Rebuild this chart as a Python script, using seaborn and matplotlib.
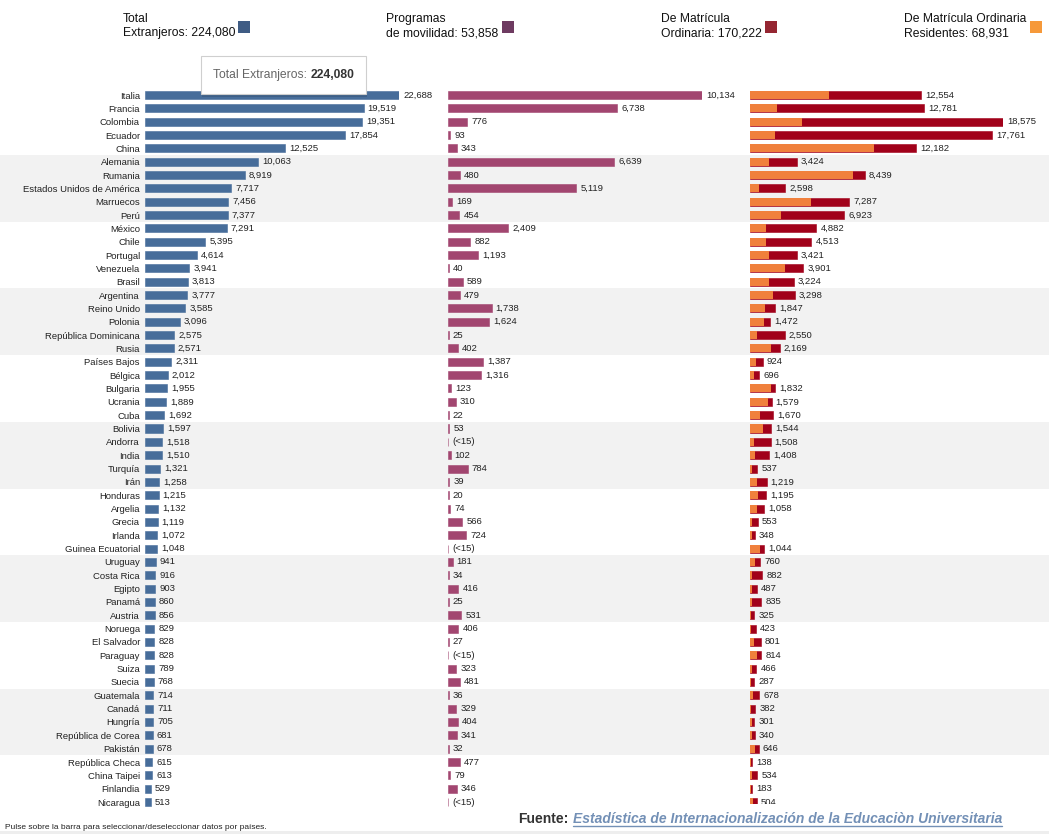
import pandas as pd
import seaborn as sns
import matplotlib.pyplot as plt
from matplotlib.patches import Rectangle
from matplotlib.lines import Line2D

# data
paises = ['Italia', 'Francia', 'Colombia', 'Ecuador', 'China', 'Alemania', 'Rumania',
          'Estados Unidos de América', 'Marruecos', 'Perú', 'México', 'Chile', 'Portugal',
          'Venezuela', 'Brasil', 'Argentina', 'Reino Unido', 'Polonia', 'República Dominicana',
          'Rusia', 'Países Bajos', 'Bélgica', 'Bulgaria', 'Ucrania', 'Cuba', 'Bolivia',
          'Andorra', 'India', 'Turquía', 'Irán', 'Honduras', 'Argelia', 'Grecia', 'Irlanda',
          'Guinea Ecuatorial', 'Uruguay', 'Costa Rica', 'Egipto', 'Panamá', 'Austria',
          'Noruega', 'El Salvador', 'Paraguay', 'Suiza', 'Suecia', 'Guatemala', 'Canadá',
          'Hungría', 'República de Corea', 'Pakistán', 'República Checa', 'China Taipei',
          'Finlandia', 'Nicaragua']

total_extranjeros = [22688, 19519, 19351, 17854, 12525, 10063, 8919, 7717, 7456, 7377,
                     7291, 5395, 4614, 3941, 3813, 3777, 3585, 3096, 2575, 2571,
                     2311, 2012, 1955, 1889, 1692, 1597, 1518, 1510, 1321, 1258,
                     1215, 1132, 1119, 1072, 1048, 941, 916, 903, 860, 856,
                     829, 828, 828, 789, 768, 714, 711, 705, 681, 678,
                     615, 613, 529, 513]

# values under 15 are shown as "(<15)"
movilidad = [10134, 6738, 776, 93, 343, 6639, 480, 5119, 169, 454,
             2409, 882, 1193, 40, 589, 479, 1738, 1624, 25, 402,
             1387, 1316, 123, 310, 22, 53, 10, 102, 784, 39,
             20, 74, 566, 724, 4, 181, 34, 416, 25, 531,
             406, 27, 14, 323, 481, 36, 329, 404, 341, 32,
             477, 79, 346, 9]

matricula = [12554, 12781, 18575, 17761, 12182, 3424, 8439, 2598, 7287, 6923,
             4882, 4513, 3421, 3901, 3224, 3298, 1847, 1472, 2550, 2169,
             924, 696, 1832, 1579, 1670, 1544, 1508, 1408, 537, 1219,
             1195, 1058, 553, 348, 1044, 760, 882, 487, 835, 325,
             423, 801, 814, 466, 287, 678, 382, 301, 340, 646,
             138, 534, 183, 504]

# residentes (orange part)
residentes = [5800, 1960, 3820, 1835, 9100, 1395, 7560, 660, 4480, 2275,
              1175, 1175, 1395, 2570, 1395, 1690, 1100, 1030, 515, 1540,
              440, 295, 1540, 1320, 735, 955, 295, 367, 147, 515,
              587, 515, 147, 147, 735, 367, 147, 147, 147, 100,
              50, 295, 515, 147, 60, 220, 70, 120, 120, 367,
              40, 147, 40, 220]

leyenda_l1 = ['Total', 'Programas', 'De Matrícula', 'De Matrícula Ordinaria']
leyenda_l2 = ['Extranjeros', 'de movilidad', 'Ordinaria', 'Residentes']
leyenda_totales = [224080, 53858, 170222, 68931]

BLUE = '#476d9a'
PURPLE = '#a24670'
RED = '#a1011a'
ORANGE = '#f0803c'
swatch_colors = ['#3f5c84', '#6e3b61', '#952632', '#f6993a']

sns.set_theme(style="white")
plt.rcParams['font.family'] = ['Liberation Sans', 'DejaVu Sans']

W, H = 1049, 834
fig = plt.figure(figsize=(W / 100, H / 100), dpi=100)


def fx(x):
    return x / W


def fy(y):
    return 1 - y / H


df = pd.DataFrame({'pais': paises, 'total': total_extranjeros, 'movilidad': movilidad,
                   'matricula': matricula, 'residentes': residentes})
n = len(df)

row_h = 13.34
top = 95 - row_h / 2
bottom = top + n * row_h
ay, ah = fy(bottom), (bottom - top) / H

# alternating grey bands, 5 rows each
bg = fig.add_axes([0, ay, 1, ah], zorder=-1)
bg.set_xlim(0, 1)
bg.set_ylim(n - 0.5, -0.5)
for start in range(5, n, 10):
    bg.axhspan(start - 0.5, min(start + 4.5, n - 0.5), color='#f2f2f2', lw=0)
bg.axis('off')

panels = [(145, 254, 'total', BLUE), (448, 254, 'movilidad', PURPLE), (750, 253, 'matricula', RED)]
axes = []
for left, width, col, c in panels:
    ax = fig.add_axes([fx(left), ay, width / W, ah])
    ax.set_facecolor('none')
    sns.barplot(data=df, x=col, y='pais', orient='h', color=c, saturation=1, width=0.6,
                edgecolor=c, linewidth=0.4, ax=ax)
    if col == 'matricula':
        sns.barplot(data=df, x='residentes', y='pais', orient='h', color=ORANGE, saturation=1,
                    width=0.6, linewidth=0, ax=ax)
    for i, v in enumerate(df[col]):
        txt = '(<15)' if v < 15 else f'{v:,}'
        ax.annotate(txt, xy=(v, i), xytext=(3, 0), textcoords='offset points',
                    va='center', ha='left', fontsize=6.8, color='#222222')
    ax.set_xlim(0, df[col].max())
    ax.set_ylim(n - 0.5, -0.5)
    ax.set_xticks([])
    ax.set_xlabel('')
    ax.set_ylabel('')
    sns.despine(ax=ax, left=True, bottom=True)
    axes.append(ax)

axes[0].tick_params(axis='y', length=0, pad=3.6, labelsize=6.8, labelcolor='#222222')
axes[1].set_yticks([])
axes[2].set_yticks([])

# legend at the top
leg_x = [123, 386, 661, 904]
sw_x = [238, 502, 765, 1030]
for lx, sx, l1, l2, tot, sc in zip(leg_x, sw_x, leyenda_l1, leyenda_l2, leyenda_totales, swatch_colors):
    fig.text(fx(lx), fy(22), l1, fontsize=8.7, color='#111111', va='baseline')
    fig.text(fx(lx), fy(36), f'{l2}: {tot:,}', fontsize=8.7, color='#111111', va='baseline')
    fig.add_artist(Rectangle((fx(sx), fy(33)), 11.5 / W, 11.5 / H, transform=fig.transFigure,
                             color=sc, lw=0))

# tooltip box
fig.add_artist(Rectangle((fx(202), fy(96.5)), 165.3 / W, 38.6 / H, transform=fig.transFigure,
                         fc='#000000', alpha=0.12, lw=0, zorder=5))
fig.add_artist(Rectangle((fx(200.7), fy(94.3)), 165.3 / W, 38.6 / H, transform=fig.transFigure,
                         fc='white', ec='#cfcfcf', lw=0.8, zorder=6))
t1 = fig.text(fx(213), fy(78), 'Total Extranjeros:', fontsize=8.7, color='#666666',
              va='baseline', zorder=7)

# footer (its white block hides the bottom of the last row on the right)
fig.add_artist(Rectangle((fx(510), fy(831)), (W - 510) / W, 27.5 / H, transform=fig.transFigure,
                         fc='white', lw=0, zorder=5))
fig.add_artist(Rectangle((0, 0), 1, 3 / H, transform=fig.transFigure, fc='#eeeeee', lw=0, zorder=5))
fig.text(fx(5), fy(829), 'Pulse sobre la barra para seleccionar/deseleccionar datos por países.',
         fontsize=6, color='#222222', va='baseline', zorder=6)
fig.text(fx(518), fy(823), 'Fuente:', fontsize=10, fontweight='bold', color='#333333',
         va='baseline', zorder=6)
link = fig.text(fx(573), fy(823), 'Estadística de Internacionalización de la Educaciòn Universitaria',
                fontsize=10, fontweight='bold', fontstyle='italic', color='#7390b6',
                va='baseline', zorder=6)

fig.canvas.draw()
renderer = fig.canvas.get_renderer()
bb1 = t1.get_window_extent(renderer)
fig.text((bb1.x1 + 3.5) / W, fy(78), f'{leyenda_totales[0]:,}', fontsize=8.7, color='#333333',
         fontweight='bold', va='baseline', zorder=7)
bb = link.get_window_extent(renderer)
fig.add_artist(Line2D([bb.x0 / W, bb.x1 / W], [fy(825.5), fy(825.5)], transform=fig.transFigure,
                      color='#7390b6', lw=1, zorder=6))

fig.savefig('out.png', dpi=100)
